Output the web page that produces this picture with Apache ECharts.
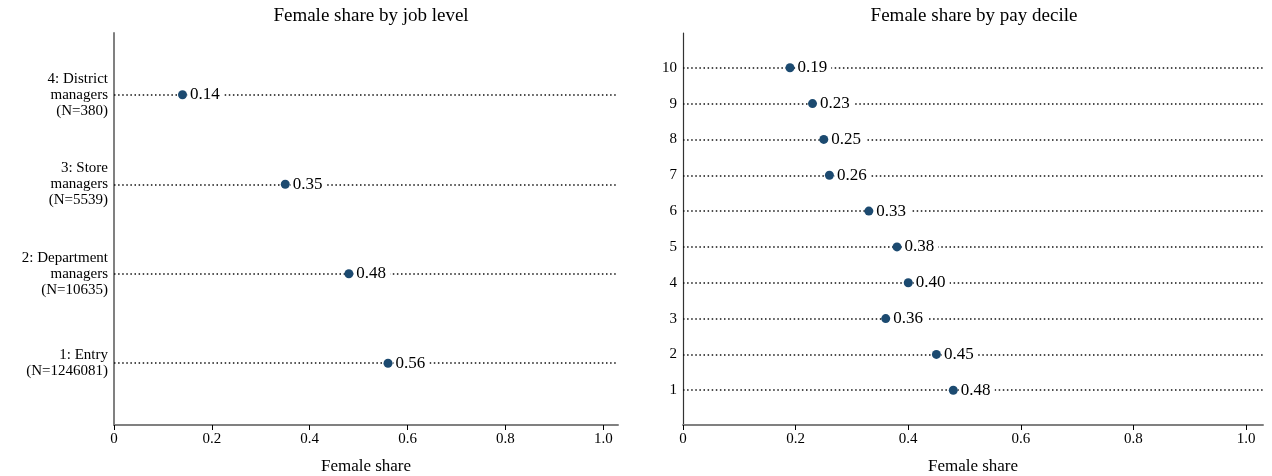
<!DOCTYPE html>
<html>
<head>
<meta charset="utf-8">
<script src="https://cdn.jsdelivr.net/npm/echarts@6/dist/echarts.min.js"></script>
<style>
  html, body { margin: 0; padding: 0; background: #fff; }
  #chart { width: 1272px; height: 476px; }
</style>
</head>
<body>
<div id="chart"></div>
<script>
// left panel: job levels (y position 1..4)
var jobLevels = ['1: Entry\n(N=1246081)', '2: Department\nmanagers\n(N=10635)', '3: Store\nmanagers\n(N=5539)', '4: District\nmanagers\n(N=380)']
var jobShare = [0.56, 0.48, 0.35, 0.14]

// right panel: pay deciles (y position 1..10)
var deciles = ['1', '2', '3', '4', '5', '6', '7', '8', '9', '10']
var decileShare = [0.48, 0.45, 0.36, 0.40, 0.38, 0.33, 0.26, 0.25, 0.23, 0.19]

var xTicks = [0, 0.2, 0.4, 0.6, 0.8, 1.0]

var FONT = '"Liberation Serif", "Times New Roman", serif'
var DOT = '#1c4a70'

var chart = echarts.init(document.getElementById('chart'))

function pts(vals) {
  return vals.map(function (v, i) { return [v, i + 1] })
}
function positions(n) {
  var out = []
  for (var i = 1; i <= n; i++) out.push(i)
  return out
}

function xAxisCfg(idx) {
  return {
    gridIndex: idx,
    type: 'value',
    min: 0,
    max: 1.03,
    name: 'Female share',
    nameLocation: 'middle',
    nameGap: 33,
    nameTextStyle: { fontFamily: FONT, fontSize: 17, color: '#000' },
    splitLine: { show: false },
    axisLine: { lineStyle: { color: '#808080', width: 2 } },
    axisTick: { customValues: xTicks, length: 5, lineStyle: { color: '#000', width: 1 } },
    axisLabel: {
      customValues: xTicks,
      fontFamily: FONT, fontSize: 15, color: '#000', margin: 7,
      formatter: function (v) { return v === 0 ? '0' : v.toFixed(1) }
    }
  }
}

function yAxisCfg(idx, labels, min, max, lineColor, lineWidth) {
  return {
    gridIndex: idx,
    type: 'value',
    min: min,
    max: max,
    splitLine: { show: false },
    axisLine: { show: true, lineStyle: { color: lineColor, width: lineWidth } },
    axisTick: { show: false },
    axisLabel: {
      customValues: positions(labels.length),
      fontFamily: FONT, fontSize: 15, color: '#000', lineHeight: 16, margin: 6,
      formatter: function (v) { return labels[Math.round(v) - 1] }
    }
  }
}

function guideSeries(idx, n) {
  return {
    type: 'scatter',
    xAxisIndex: idx,
    yAxisIndex: idx,
    data: [],
    silent: true,
    z: 1,
    markLine: {
      silent: true,
      symbol: ['none', 'none'],
      label: { show: false },
      lineStyle: { color: '#111', width: 1.5, type: [1.5, 2.6] },
      data: positions(n).map(function (p) { return { yAxis: p } })
    }
  }
}

function dotSeries(idx, vals) {
  return {
    type: 'scatter',
    xAxisIndex: idx,
    yAxisIndex: idx,
    data: pts(vals),
    symbolSize: 9,
    z: 5,
    itemStyle: { color: DOT, opacity: 1 },
    label: {
      show: true,
      position: 'right',
      distance: 1,
      fontFamily: FONT,
      fontSize: 17,
      color: '#000',
      backgroundColor: '#fff',
      padding: [0, 4, 0, 2],
      formatter: function (p) { return p.value[0].toFixed(2) }
    }
  }
}

chart.setOption({
  animation: false,
  backgroundColor: '#fff',
  title: [
    { text: 'Female share by job level', left: 366, top: 2, textAlign: 'center',
      textStyle: { fontFamily: FONT, fontSize: 19, fontWeight: 'normal', color: '#000' } },
    { text: 'Female share by pay decile', left: 969, top: 2, textAlign: 'center',
      textStyle: { fontFamily: FONT, fontSize: 19, fontWeight: 'normal', color: '#000' } }
  ],
  grid: [
    { left: 114, right: 654, top: 33, bottom: 51, outerBoundsMode: 'none' },
    { left: 683, right: 9, top: 33, bottom: 51, outerBoundsMode: 'none' }
  ],
  xAxis: [xAxisCfg(0), xAxisCfg(1)],
  yAxis: [
    yAxisCfg(0, jobLevels, 0.31, 4.69, '#808080', 2),
    yAxisCfg(1, deciles, 0.03, 10.97, '#333', 1.2)
  ],
  series: [
    guideSeries(0, jobLevels.length),
    guideSeries(1, deciles.length),
    dotSeries(0, jobShare),
    dotSeries(1, decileShare)
  ]
})
</script>
</body>
</html>
